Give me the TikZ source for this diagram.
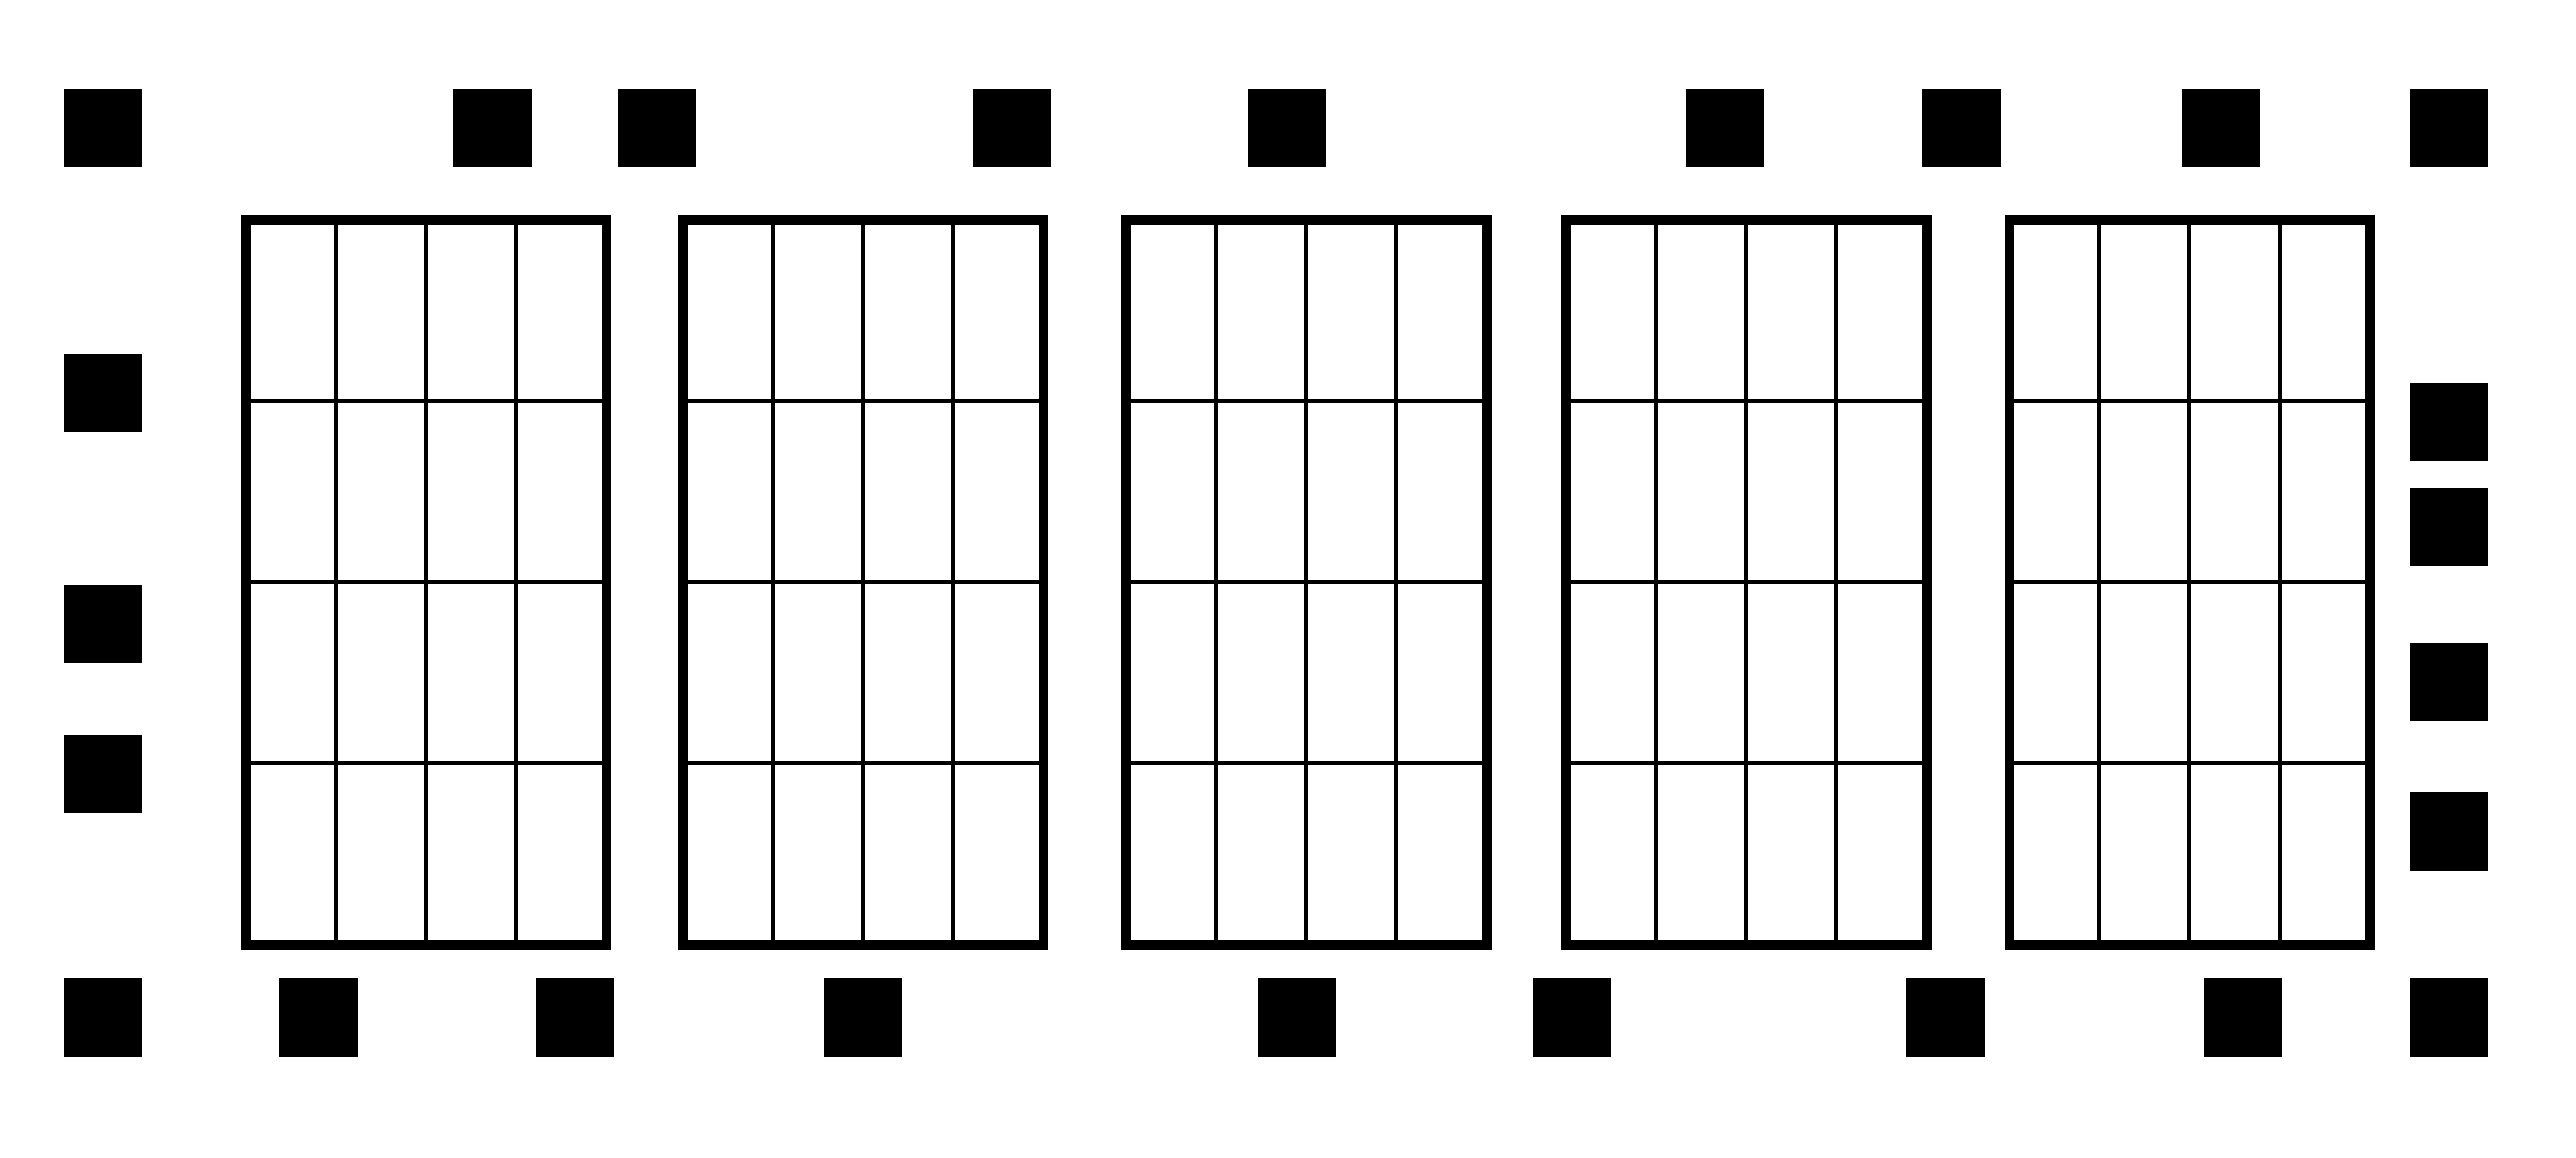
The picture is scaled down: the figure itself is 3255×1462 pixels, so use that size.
\documentclass[tikz,border=0pt]{standalone}
\usepackage{tikz}

\begin{document}
\begin{tikzpicture}[x=0.01cm, y=-0.01cm,
    blk/.style={fill=black, inner sep=0pt, outer sep=0pt, minimum width=0.99cm, minimum height=0.99cm},
    thinline/.style={line width=1.4pt},
    frameline/.style={line width=3.4pt}]
    \useasboundingbox (0, 0) rectangle (3255, 1462);

    % top row
    \node[blk] (T1) at (130.5, 161.5) {};
    \node[blk] (T2) at (622.5, 161.5) {};
    \node[blk] (T3) at (830.5, 161.5) {};
    \node[blk] (T4) at (1278.5, 161.5) {};
    \node[blk] (T5) at (1626.5, 161.5) {};
    \node[blk] (T6) at (2179.5, 161.5) {};
    \node[blk] (T7) at (2478.5, 161.5) {};
    \node[blk] (T8) at (2806.5, 161.5) {};
    \node[blk] (T9) at (3094.5, 161.5) {};

    % left column
    \node[blk] (L1) at (130.5, 496.5) {};
    \node[blk] (L2) at (130.5, 788.5) {};
    \node[blk] (L3) at (130.5, 977.5) {};

    % right column
    \node[blk] (R1) at (3094.5, 533.5) {};
    \node[blk] (R2) at (3094.5, 665.5) {};
    \node[blk] (R3) at (3094.5, 861.5) {};
    \node[blk] (R4) at (3094.5, 1050) {};

    % bottom row
    \node[blk] (B1) at (130.5, 1285.5) {};
    \node[blk] (B2) at (402.5, 1285.5) {};
    \node[blk] (B3) at (726.5, 1285.5) {};
    \node[blk] (B4) at (1090.5, 1285.5) {};
    \node[blk] (B5) at (1638.5, 1285.5) {};
    \node[blk] (B6) at (1986.5, 1285.5) {};
    \node[blk] (B7) at (2458.5, 1285.5) {};
    \node[blk] (B8) at (2834.5, 1285.5) {};
    \node[blk] (B9) at (3094.5, 1285.5) {};

    % the five 4x4 grids
    \foreach \gx [count=\i] in {311, 863, 1423, 1979, 2539} {
        \coordinate (G\i) at (\gx, 278);
        \foreach \k in {1, 2, 3} {
            \draw[thinline] (\gx+113.875*\k, 278) -- (\gx+113.875*\k, 1193.5); % columns
            \draw[thinline] (\gx, 278+228.875*\k) -- (\gx+455.5, 278+228.875*\k); % rows
        }
        \draw[frameline] (G\i) rectangle ++(455.5, 915.5); % frame
    }

\end{tikzpicture}
\end{document}
